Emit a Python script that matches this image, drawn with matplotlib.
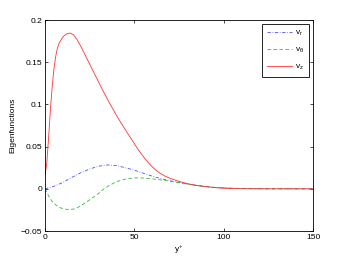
import matplotlib
matplotlib.use('Agg')
import matplotlib.pyplot as plt

plt.rcParams['font.family'] = ['Liberation Sans', 'DejaVu Sans']
plt.rcParams['mathtext.fontset'] = 'custom'
plt.rcParams['mathtext.rm'] = 'Liberation Sans'
plt.rcParams['mathtext.it'] = 'Liberation Sans'

# y+ positions and eigenfunction values
yplus_z = [0, 1, 2, 3, 4, 5, 6, 7, 8, 10, 12, 14, 16, 18, 20, 22, 24, 26, 28, 30,
           32, 34, 36, 38, 40, 42, 44, 46, 48, 50, 52, 54, 56, 58, 60, 62, 64, 67,
           70, 75, 80, 85, 90, 95, 100, 105, 110, 120, 150]
v_z = [0.016, 0.03, 0.06, 0.093, 0.12, 0.142, 0.157, 0.167, 0.173, 0.180, 0.1835,
       0.1846, 0.1825, 0.1765, 0.169, 0.1605, 0.152, 0.1435, 0.135, 0.1265, 0.118,
       0.110, 0.102, 0.0945, 0.087, 0.080, 0.0732, 0.0665, 0.060, 0.0535, 0.047,
       0.041, 0.0355, 0.0305, 0.026, 0.0222, 0.019, 0.0152, 0.0124, 0.0088, 0.006,
       0.0039, 0.0025, 0.0014, 0.0007, 0.0003, 0.0001, 0.0, 0.0]

yplus_r = [0, 5, 10, 15, 20, 25, 30, 35, 40, 45, 50, 55, 60, 65, 70, 75, 80, 85,
           90, 95, 100, 110, 120, 130, 150]
v_r = [0.0, 0.003, 0.0075, 0.0135, 0.019, 0.0235, 0.0268, 0.0283, 0.0275, 0.025,
       0.022, 0.0185, 0.015, 0.012, 0.0095, 0.0075, 0.0055, 0.004, 0.0027, 0.0017,
       0.001, 0.0003, 0.0001, 0.0, 0.0]

yplus_t = [0, 1, 2, 4, 6, 8, 10, 12, 14, 16, 18, 20, 23, 26, 30, 33, 36, 40, 45,
           50, 55, 60, 65, 70, 75, 80, 85, 90, 95, 100, 110, 120, 150]
v_t = [0.0, -0.004, -0.0085, -0.015, -0.019, -0.022, -0.0235, -0.0243, -0.0245,
       -0.024, -0.0225, -0.020, -0.016, -0.0115, -0.0055, 0.0, 0.004, 0.0085, 0.0115,
       0.013, 0.0128, 0.0118, 0.0105, 0.009, 0.0072, 0.0055, 0.004, 0.0027, 0.0017,
       0.001, 0.0003, 0.0001, 0.0]

xticks = [0, 50, 100, 150]
yticks = [-0.05, 0, 0.05, 0.1, 0.15, 0.2]
ytick_labels = ['\u22120.05', '0', '0.05', '0.1', '0.15', '0.2']

fig = plt.figure(figsize=(3.46, 2.6), dpi=100)
ax = fig.add_axes([0.130, 0.1115, 0.775, 0.8115])

ax.plot(yplus_r, v_r, color='#4d4dff', linewidth=0.6, label='v$_r$',
        dashes=[4.0, 2.0, 0.8, 2.0])
ax.plot(yplus_t, v_t, color='#33bb33', linewidth=0.6, label='v$_\\theta$',
        dashes=[4.3, 2.9])
ax.plot(yplus_z, v_z, color='#ff3333', linestyle='-', linewidth=0.6, label='v$_z$')

ax.set_xlim(0, 150)
ax.set_ylim(-0.05, 0.2)
ax.set_xticks(xticks)
ax.set_yticks(yticks)
ax.set_yticklabels(ytick_labels)
ax.tick_params(direction='in', top=True, right=True, labelsize=6, length=2.5,
               width=0.5, pad=2)
for s in ax.spines.values():
    s.set_linewidth(0.6)

ax.set_xlabel('y$^{+}$', fontsize=6, labelpad=2)
ax.set_ylabel('Eigenfunctions', fontsize=6, labelpad=3)

leg = ax.legend(loc='upper right', fontsize=6, handlelength=3.0, labelspacing=0.9,
                borderpad=0.6, handletextpad=0.3, fancybox=False, framealpha=1,
                borderaxespad=0.5)
leg.get_frame().set_edgecolor('black')
leg.get_frame().set_linewidth(0.6)

fig.savefig('out.png', dpi=100)
